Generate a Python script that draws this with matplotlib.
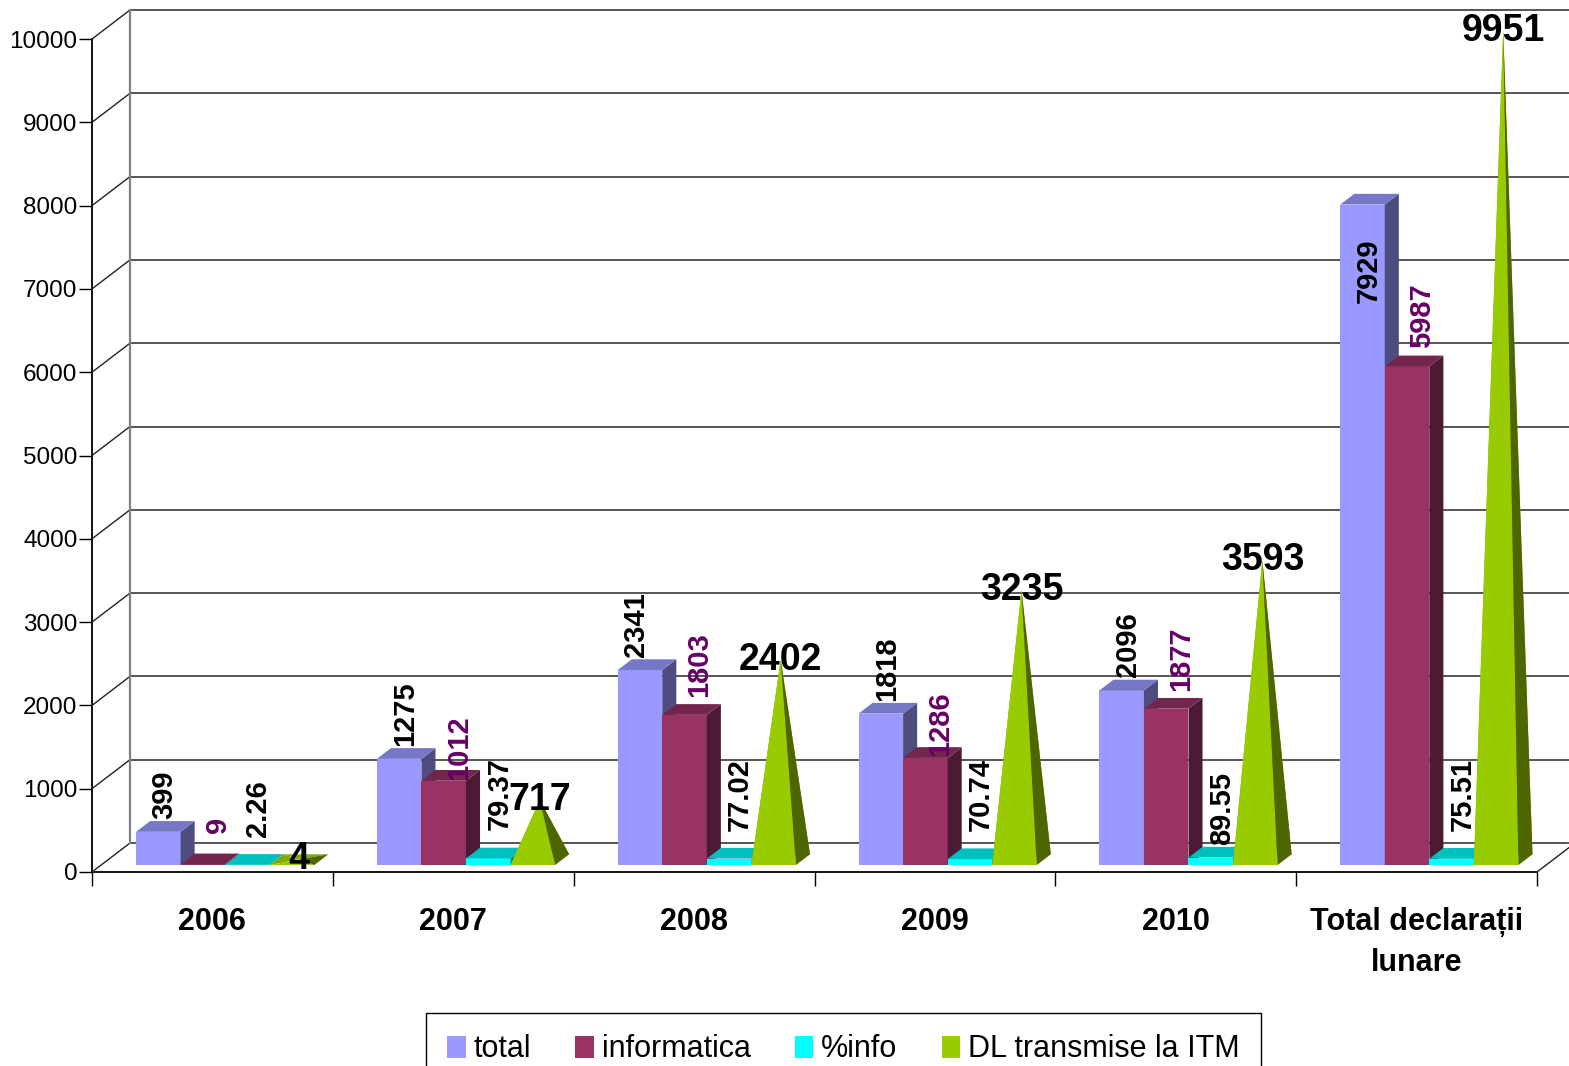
import matplotlib
matplotlib.use('Agg')
import matplotlib.pyplot as plt
from matplotlib.patches import Polygon, Patch

plt.rcParams['font.family'] = ['Liberation Sans', 'DejaVu Sans']

# date
categories = ['2006', '2007', '2008', '2009', '2010', 'Total declarații\nlunare']
total = [399, 1275, 2341, 1818, 2096, 7929]
informatica = [9, 1012, 1803, 1286, 1877, 5987]
pct_info = [2.26, 79.37, 77.02, 70.74, 89.55, 75.51]
dl_itm = [4, 717, 2402, 3235, 3593, 9951]
y_ticks = list(range(0, 10001, 1000))

# culori (fata, sus, lateral)
col_total = ('#9999FF', '#7777C8', '#4D4D80')
col_info = ('#993366', '#73264D', '#4D1A33')
col_pct = ('#00FFFF', '#00BFBF', '#008080')
col_dl = ('#99CC00', '#4D6600')
col_lbl_info = '#660066'

fig = plt.figure(figsize=(15.69, 10.66), dpi=100)
ax = fig.add_axes([92 / 1569, 194 / 1066, 1445 / 1569, 833 / 1066])
ax.set_xlim(0, 6)
ax.set_ylim(0, 10000)

# pixeli pe unitate de date, adancimea peretelui 3D
px_x = 1445 / 6
px_y = 833 / 10000
DX = 38 / px_x
DY = 29 / px_y

off, w = 0.145, 0.185      # pozitia primei coloane, latimea coloanei
z0, z1 = 0.24, 0.61        # adancimea coloanelor

def P(x, y, z):
    return (x + z * DX, y + z * DY)

# pereti si grila
for v in y_ticks:
    ax.plot([0, DX], [v, v + DY], color='#222222', lw=1.0, clip_on=False, zorder=1)
    ax.plot([DX, 6.5], [v + DY, v + DY], color='#555555', lw=1.4, clip_on=False, zorder=1)
ax.plot([DX, DX], [DY, 10000 + DY], color='#808080', lw=1.6, clip_on=False, zorder=1)
ax.plot([6, 6 + DX], [0, DY], color='#222222', lw=1.0, clip_on=False, zorder=1)

series = [('total', total, col_total), ('info', informatica, col_info), ('pct', pct_info, col_pct)]
lift = {'total': 13, 'info': 18, 'pct': 28}
shift = {'total': 6, 'info': 15, 'pct': 11}
lift_fix = {('info', 0): 31, ('info', 1): 1, ('info', 3): 2, ('total', 5): -98, ('pct', 4): 13}
shift_fix = {('total', 2): -4}

zo = 2
for i in range(len(categories)):
    for j, (name, vals, cols) in enumerate(series):
        v = vals[i]
        x0 = i + off + j * w
        x1 = x0 + w
        fx, fy = P(x0, 0, z0)
        ax.bar(fx, v, width=w, bottom=fy, align='edge', color=cols[0], edgecolor='none',
               zorder=zo, clip_on=False)
        top = [P(x0, v, z0), P(x1, v, z0), P(x1, v, z1), P(x0, v, z1)]
        side = [P(x1, 0, z0), P(x1, 0, z1), P(x1, v, z1), P(x1, v, z0)]
        ax.add_patch(Polygon(side, closed=True, fc=cols[2], ec='none', zorder=zo, clip_on=False))
        ax.add_patch(Polygon(top, closed=True, fc=cols[1], ec='none', zorder=zo, clip_on=False))
        zo += 1

        # eticheta
        lx = fx + w / 2 + shift_fix.get((name, i), shift[name]) / px_x
        ly = fy + v + lift_fix.get((name, i), lift[name]) / px_y
        txt = '{:.2f}'.format(v) if name == 'pct' else str(v)
        ax.text(lx, ly, txt, rotation=90, ha='center', va='bottom', fontsize=21,
                fontweight='bold', color=col_lbl_info if name == 'info' else 'black',
                zorder=100, clip_on=False)

    # piramida DL
    v = dl_itm[i]
    x0 = i + off + 3 * w
    x1 = x0 + w
    xc = (x0 + x1) / 2
    zc = (z0 + z1) / 2
    apex = P(xc, v, zc)
    left = [P(x0, 0, z0), P(x0, 0, z1), apex]
    back = [P(x0, 0, z1), P(x1, 0, z1), apex]
    front = [P(x0, 0, z0), P(x1, 0, z0), apex]
    right = [P(x1, 0, z0), P(x1, 0, z1), apex]
    ax.add_patch(Polygon(left, closed=True, fc='#7FA800', ec='none', zorder=zo, clip_on=False))
    ax.add_patch(Polygon(back, closed=True, fc='#7FA800', ec='none', zorder=zo, clip_on=False))
    ax.add_patch(Polygon(front, closed=True, fc=col_dl[0], ec='none', zorder=zo, clip_on=False))
    ax.add_patch(Polygon(right, closed=True, fc=col_dl[1], ec='none', zorder=zo, clip_on=False))
    zo += 1
    ax.text(apex[0], apex[1], str(v), ha='center', va='center', fontsize=27,
            fontweight='bold', color='black', zorder=100, clip_on=False)

# axe
for s in ['top', 'right']:
    ax.spines[s].set_visible(False)
for s in ['left', 'bottom']:
    ax.spines[s].set_color('black')
    ax.spines[s].set_linewidth(1.3)
    ax.spines[s].set_zorder(0.5)

ax.set_yticks(y_ticks)
ax.tick_params(axis='y', direction='out', length=9.4, width=1.0, labelsize=17.5, pad=1)
ax.set_xticks(range(7))
ax.set_xticklabels([''] * 7)
ax.tick_params(axis='x', which='major', direction='out', length=10, width=1.0)
ax.set_xticks([i + 0.5 for i in range(6)], minor=True)
ax.set_xticklabels(categories, minor=True, fontsize=22, fontweight='bold')
ax.tick_params(axis='x', which='minor', length=0, pad=25)
for t in ax.get_xticklabels(minor=True):
    t.set_linespacing(1.5)

# legenda
handles = [Patch(facecolor=c, edgecolor='none') for c in
           (col_total[0], col_info[0], col_pct[0], col_dl[0])]
leg = fig.legend(handles, ['total', 'informatica', '%info', 'DL transmise la ITM'],
                 loc='upper left', bbox_to_anchor=(426 / 1569, 53 / 1066), ncol=4,
                 fontsize=22, frameon=True, fancybox=False, edgecolor='black',
                 framealpha=1, handlelength=0.6, handleheight=0.72, handletextpad=0.26,
                 columnspacing=1.45, borderpad=0.7, borderaxespad=0)
leg.get_frame().set_linewidth(1.0)

fig.savefig('out.png', dpi=100)
